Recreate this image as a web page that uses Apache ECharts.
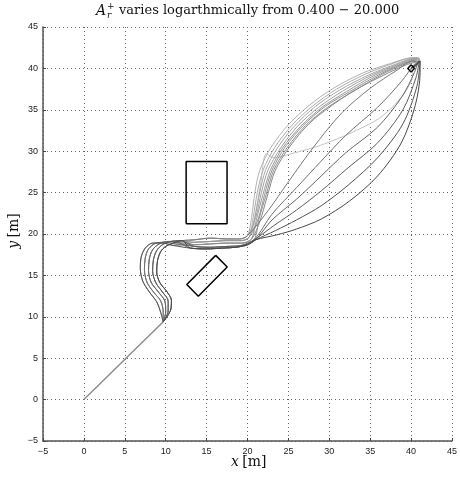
<!DOCTYPE html>
<html>
<head>
<meta charset="utf-8">
<script src="https://cdn.jsdelivr.net/npm/echarts@6/dist/echarts.min.js"></script>
<style>html,body{margin:0;padding:0;background:#fff;}#c{width:460px;height:477px;}</style>
</head>
<body>
<div id="c"></div>
<script>
// ---- axis ticks ----
var xTicks = [-5, 0, 5, 10, 15, 20, 25, 30, 35, 40, 45];
var yTicks = [-5, 0, 5, 10, 15, 20, 25, 30, 35, 40, 45];

// ---- common straight start segment (shared by all runs) ----
var startSeg = [[0, 0], [9.7, 9.4]];

// ---- loop variants (around x 7..10.7, y 10..19) ----
var L0 = [[9.7,9.4],[9.4,10.5],[8.9,11.8],[8.0,13.0],[7.2,14.3],[6.9,15.8],[7.0,17.2],[7.5,18.3],[8.4,18.9],[9.6,18.9],[11.0,18.6]];
var L1 = [[9.7,9.4],[9.7,10.5],[9.4,11.9],[8.5,13.0],[7.7,14.2],[7.4,15.7],[7.5,17.1],[7.9,18.2],[8.8,18.9],[10.0,19.0],[11.2,18.8]];
var L2 = [[9.7,9.4],[10.0,10.6],[9.9,11.9],[9.1,13.0],[8.2,14.2],[7.9,15.6],[8.0,17.0],[8.4,18.1],[9.2,18.8],[10.3,19.1],[11.5,19.0]];
var L3 = [[9.7,9.4],[10.3,10.7],[10.3,11.9],[9.6,13.0],[8.8,14.1],[8.4,15.5],[8.5,16.9],[8.9,18.0],[9.6,18.7],[10.6,19.1],[11.8,19.2]];
var L4 = [[9.7,9.4],[10.6,10.8],[10.7,12.0],[10.1,13.1],[9.3,14.1],[8.9,15.4],[9.0,16.8],[9.4,17.9],[10.0,18.5],[10.9,18.9],[12.0,19.2]];

// ---- middle variants (x 12..21) ----
var Ma = [[13.5,19.3],[15.5,19.5],[17.5,19.4],[19.0,19.4],[20.0,19.8]];
var Mb = [[13.5,19.0],[15.5,19.1],[17.5,19.2],[19.2,19.2],[20.2,19.6]];
var Mc = [[13.5,18.7],[15.5,18.8],[17.5,18.9],[19.3,18.9],[20.5,19.4]];
var Md = [[13.5,18.5],[15.5,18.4],[17.5,18.5],[19.2,18.6],[20.8,19.3]];
var Me = [[13.0,18.3],[15.0,18.2],[17.0,18.3],[18.6,18.4],[20.0,18.7],[21.0,19.3]];

// ---- final fan toward the goal ----
var F0 = [[20.9,22.0],[21.6,26.0],[22.3,29.7],[23.3,29.2],[25.0,29.6],[28.3,30.5],[31.0,31.5],[33.5,32.6],[36.0,33.9],[38.0,35.6],[39.5,37.5],[40.2,39.2],[40.0,40.0]];
var A0 = [[20.5,22.0],[20.9,25.0],[21.5,27.7],[22.9,30.5],[25.0,33.2],[27.5,35.5],[30.5,37.6],[34.0,39.4],[37.5,40.6],[40.2,41.3],[41.0,41.2],[40.8,40.6],[40.0,40.0]];
var A1 = [[20.7,22.0],[21.2,25.0],[21.9,27.7],[23.3,30.4],[25.4,33.1],[27.9,35.4],[30.9,37.5],[34.4,39.3],[37.8,40.6],[40.3,41.3],[41.0,41.2],[40.8,40.6],[40.0,40.0]];
var A2 = [[20.9,22.0],[21.5,25.0],[22.2,27.7],[23.6,30.3],[25.7,33.0],[28.3,35.4],[31.3,37.4],[34.8,39.2],[38.1,40.5],[40.4,41.2],[41.0,41.1],[40.8,40.5],[40.0,40.0]];
var A3 = [[21.0,22.0],[21.7,25.0],[22.5,27.7],[24.0,30.3],[26.1,33.0],[28.7,35.3],[31.7,37.3],[35.2,39.2],[38.4,40.5],[40.5,41.2],[41.0,41.0],[40.7,40.4],[40.0,40.0]];
var A4 = [[21.1,21.8],[21.9,24.8],[22.8,27.7],[24.3,30.4],[26.5,33.0],[29.1,35.3],[32.1,37.2],[35.6,39.2],[38.7,40.5],[40.5,41.1],[41.0,40.9],[40.7,40.4],[40.0,40.0]];
var A5 = [[21.3,21.8],[22.1,24.8],[23.0,27.7],[24.6,30.5],[26.8,33.1],[29.5,35.4],[32.5,37.2],[36.0,39.2],[38.9,40.5],[40.6,41.0],[40.9,40.7],[40.5,40.3],[40.0,40.0]];
var A6 = [[21.4,21.8],[22.3,24.8],[23.2,27.7],[24.9,30.5],[27.1,33.1],[29.8,35.3],[32.9,37.2],[36.5,39.3],[39.2,40.5],[40.7,40.9],[40.8,40.5],[40.0,40.0]];
var A7 = [[21.5,21.5],[22.4,24.5],[23.4,27.7],[25.2,30.6],[27.5,33.3],[30.0,35.3],[33.0,37.3],[37.1,39.4],[39.6,40.5],[40.8,40.8],[40.7,40.4],[40.0,40.0]];
var D0 = [[22.5,22.8],[25.0,26.3],[28.0,30.4],[31.5,34.6],[35.0,37.6],[38.3,39.8],[40.2,40.9],[40.7,40.7],[40.0,40.0]];
var D1 = [[23.0,22.4],[26.0,25.6],[29.0,28.8],[32.0,31.9],[35.9,35.3],[38.8,38.4],[40.4,40.5],[40.7,40.6],[40.0,40.0]];
var D2 = [[23.0,21.7],[26.0,24.2],[29.0,27.0],[32.0,29.8],[35.9,32.9],[38.9,36.6],[40.4,39.5],[40.9,40.9],[40.6,40.4],[40.0,40.0]];
var D3 = [[23.2,21.0],[26.0,22.9],[29.0,25.2],[32.3,28.0],[35.9,31.0],[39.0,35.0],[40.6,38.9],[41.0,40.9],[40.6,40.4],[40.0,40.0]];
var D4 = [[23.4,20.4],[26.0,21.7],[29.0,23.4],[32.3,25.9],[35.9,29.2],[39.0,33.3],[40.7,37.8],[41.1,40.9],[40.7,40.5],[40.0,40.0]];
var D5 = [[23.6,19.9],[26.0,20.6],[29.0,21.8],[32.5,24.0],[35.9,27.0],[38.8,31.0],[40.5,35.5],[41.1,39.5],[41.1,40.9],[40.7,40.5],[40.0,40.0]];

// ---- obstacles and goal ----
var obstacleRect = [[12.5,21.25],[17.5,21.25],[17.5,28.75],[12.5,28.75],[12.5,21.25]];
var obstacleTilted = [[16.11,17.42],[17.52,16.01],[13.99,12.48],[12.58,13.89],[16.11,17.42]];
var goalMarker = [[40.0,40.45],[40.4,40.0],[40.0,39.55],[39.6,40.0],[40.0,40.45]];

// ---- trajectories: [loop, middle, fan, colour] ----
var trajectories = [
  [L0, Mc, F0, '#c2c2c2'],
  [L1, Ma, A0, '#b2b2b2'],
  [L2, Mb, A1, '#acacac'],
  [L0, Mb, A2, '#a6a6a6'],
  [L3, Ma, A3, '#a0a0a0'],
  [L1, Mc, A4, '#9a9a9a'],
  [L4, Mb, A5, '#949494'],
  [L2, Md, A6, '#8e8e8e'],
  [L3, Mc, A7, '#888888'],
  [L4, Ma, D0, '#7a7a7a'],
  [L1, Md, D1, '#707070'],
  [L2, Me, D2, '#666666'],
  [L3, Md, D3, '#5c5c5c'],
  [L0, Me, D4, '#525252'],
  [L4, Me, D5, '#484848']
];

var series = [{
  type: 'line', data: startSeg, symbol: 'none',
  lineStyle: { color: '#8a8a8a', width: 1.4 }, z: 2
}];
trajectories.forEach(function (t) {
  series.push({
    type: 'line', data: t[0].concat(t[1], t[2]),
    smooth: 0.3, symbol: 'none', clip: true,
    lineStyle: { color: t[3], width: 1 }, z: 2
  });
});
[obstacleRect, obstacleTilted, goalMarker].forEach(function (o) {
  series.push({
    type: 'line', data: o, smooth: false, symbol: 'none',
    lineStyle: { color: '#000', width: 1.5 }, z: 3
  });
});

var fmt = function (v) { return v < 0 ? '\u2212' + Math.abs(v) : String(v); };
var tickLab = { fontFamily: 'Liberation Sans', fontSize: 9, color: '#222', formatter: fmt };
var grid = { lineStyle: { color: '#666', type: [1, 3], width: 1 } };

var chart = echarts.init(document.getElementById('c'), null, { renderer: 'canvas' });
chart.setOption({
  animation: false,
  backgroundColor: '#fff',
  grid: { left: 43, right: 4, top: 27, bottom: 36, containLabel: false },
  xAxis: {
    type: 'value', min: xTicks[0], max: xTicks[xTicks.length - 1], interval: 5,
    axisLine: { onZero: false, lineStyle: { color: '#555', width: 1.5 } },
    axisTick: { inside: true, length: 3, lineStyle: { color: '#444' } },
    axisLabel: Object.assign({ margin: 6, showMaxLabel: true, showMinLabel: true }, tickLab),
    splitLine: grid
  },
  yAxis: {
    type: 'value', min: yTicks[0], max: yTicks[yTicks.length - 1], interval: 5,
    axisLine: { onZero: false, lineStyle: { color: '#555', width: 1.5 } },
    axisTick: { inside: true, length: 3, lineStyle: { color: '#444' } },
    axisLabel: Object.assign({ margin: 5, showMaxLabel: true, showMinLabel: true }, tickLab),
    splitLine: grid
  },
  graphic: [
    { type: 'text', left: 96, top: 4, style: { text: 'A', font: 'italic 14px "DejaVu Serif"', fill: '#111' } },
    { type: 'text', left: 107, top: 2, style: { text: '+', font: '9px "DejaVu Serif"', fill: '#111' } },
    { type: 'text', left: 107, top: 11, style: { text: 'r', font: 'italic 9px "DejaVu Serif"', fill: '#111' } },
    { type: 'text', left: 119, top: 4, style: { text: 'varies logarthmically from 0.400 \u2212 20.000', font: '13px "DejaVu Serif"', fill: '#111' } },
    { type: 'text', left: 231, top: 455, style: { text: '{i|x} {n|[m]}', rich: { i: { font: 'italic 14px "DejaVu Serif"', fill: '#111' }, n: { font: '14px "DejaVu Serif"', fill: '#111' } } } },
    { type: 'text', x: 14, y: 231, rotation: Math.PI / 2,
      style: { text: '{i|y} {n|[m]}', align: 'center', verticalAlign: 'middle', rich: { i: { font: 'italic 14px "DejaVu Serif"', fill: '#111' }, n: { font: '14px "DejaVu Serif"', fill: '#111' } } } }
  ],
  series: series
});
</script>
</body>
</html>
